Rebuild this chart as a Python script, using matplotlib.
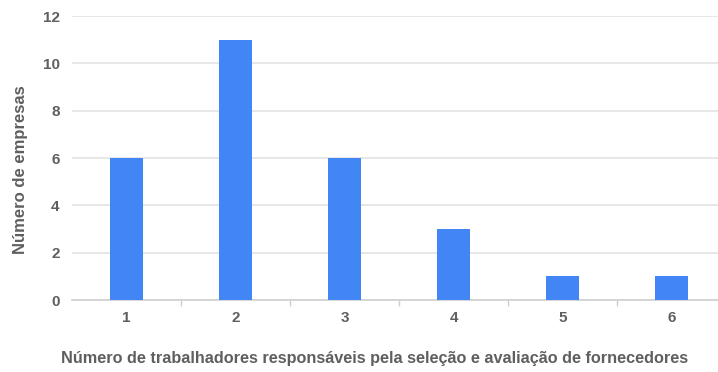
import matplotlib.pyplot as plt
from matplotlib.ticker import MultipleLocator, FixedLocator

plt.rcParams['font.family'] = ['Liberation Sans', 'DejaVu Sans']

# numero de trabalhadores x numero de empresas
trabalhadores = [1, 2, 3, 4, 5, 6]
empresas = [6, 11, 6, 3, 1, 1]

bar_color = '#4285f4'
text_color = '#5f5f5f'
grid_color = '#e3e3e3'

fig = plt.figure(figsize=(7.18, 3.72), dpi=100)
ax = fig.add_axes([72 / 718, 72 / 372, 654 / 718, 284 / 372])

ax.bar(trabalhadores, empresas, width=0.31, color=bar_color, zorder=3)

ax.set_xlim(0.5, 6.5)
ax.set_ylim(0, 12)
ax.yaxis.set_major_locator(MultipleLocator(2))
ax.set_xticks(trabalhadores)
ax.xaxis.set_minor_locator(FixedLocator([1.5, 2.5, 3.5, 4.5, 5.5]))

ax.grid(axis='y', color=grid_color, linewidth=1.2, zorder=0)
for s in ['top', 'right', 'left']:
    ax.spines[s].set_visible(False)
ax.spines['bottom'].set_color('#cfcfcf')
ax.spines['bottom'].set_linewidth(1.2)

ax.tick_params(axis='y', length=0, pad=9, labelsize=11, labelcolor=text_color)
ax.tick_params(axis='x', which='major', length=0, pad=8, labelsize=11, labelcolor=text_color)
ax.tick_params(axis='x', which='minor', length=4, color='#cfcfcf', width=1)
for lbl in ax.get_xticklabels() + ax.get_yticklabels():
    lbl.set_fontweight('bold')

fig.text(375 / 718, 1 - 359 / 372,
         'Número de trabalhadores responsáveis pela seleção e avaliação de fornecedores',
         ha='center', va='center', fontsize=11.7, fontweight='bold', color=text_color)
fig.text(21 / 718, 1 - 170 / 372, 'Número de empresas', rotation=90,
         ha='center', va='center', fontsize=12, fontweight='bold', color=text_color)

fig.savefig('out.png', dpi=100)
